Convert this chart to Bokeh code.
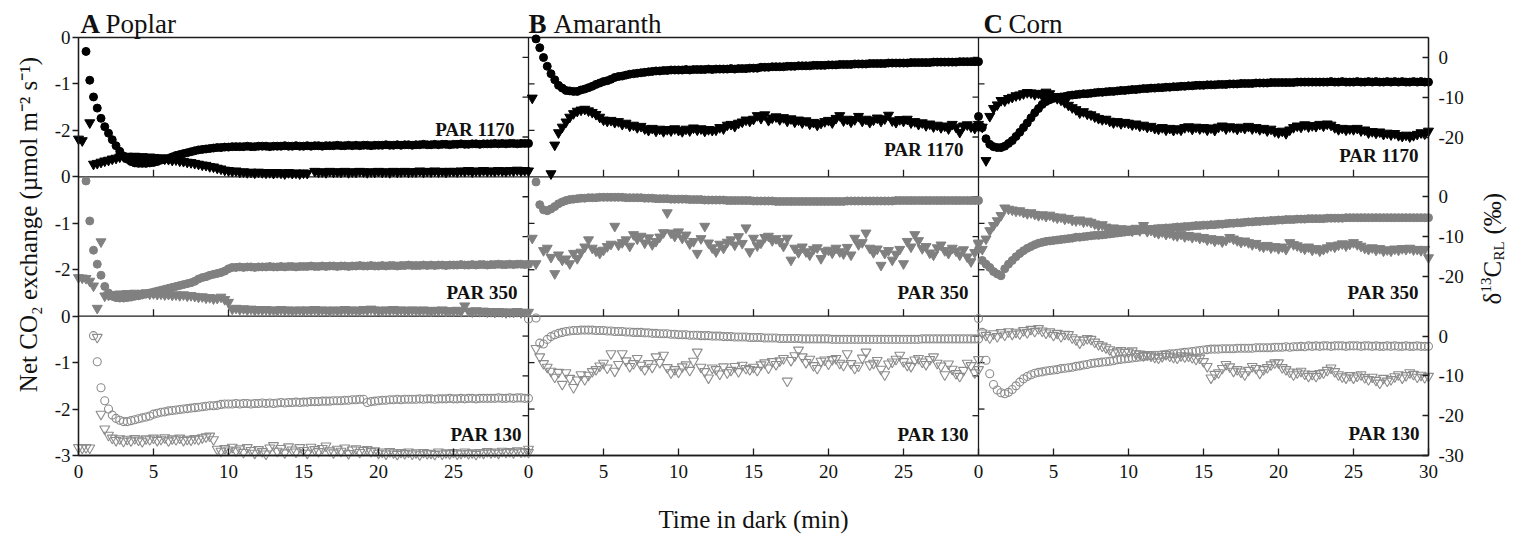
import math
import numpy as np
from bokeh.plotting import figure
from bokeh.models import Range1d, LinearAxis, FixedTicker, Label, ColumnDataSource
from bokeh.embed import file_html
from bokeh.resources import INLINE

N = None

# ---------------- data ----------------
TIME = [0.0, 0.25, 0.5, 0.75, 1.0, 1.25, 1.5, 1.75, 2.0, 2.25,
        2.5, 2.75, 3.0, 3.25, 3.5, 3.75, 4.0, 4.25, 4.5, 4.75,
        5.0, 5.25, 5.5, 5.75, 6.0, 6.25, 6.5, 6.75, 7.0, 7.25,
        7.5, 7.75, 8.0, 8.25, 8.5, 8.75, 9.0, 9.25, 9.5, 9.75,
        10.0, 10.25, 10.5, 10.75, 11.0, 11.25, 11.5, 11.75, 12.0, 12.25,
        12.5, 12.75, 13.0, 13.25, 13.5, 13.75, 14.0, 14.25, 14.5, 14.75,
        15.0, 15.25, 15.5, 15.75, 16.0, 16.25, 16.5, 16.75, 17.0, 17.25,
        17.5, 17.75, 18.0, 18.25, 18.5, 18.75, 19.0, 19.25, 19.5, 19.75,
        20.0, 20.25, 20.5, 20.75, 21.0, 21.25, 21.5, 21.75, 22.0, 22.25,
        22.5, 22.75, 23.0, 23.25, 23.5, 23.75, 24.0, 24.25, 24.5, 24.75,
        25.0, 25.25, 25.5, 25.75, 26.0, 26.25, 26.5, 26.75, 27.0, 27.25,
        27.5, 27.75, 28.0, 28.25, 28.5, 28.75, 29.0, 29.25, 29.5, 29.75,
        30.0]

SPECIES = ["Poplar", "Amaranth", "Corn"]
PANEL_LETTERS = ["A", "B", "C"]
PAR_LABELS = ["PAR 1170", "PAR 350", "PAR 130"]
X_TICKS = [0, 5, 10, 15, 20, 25, 30]
CO2_TICKS = [0, -1, -2]
CO2_BOTTOM_TICK = -3
D13C_TICKS = [0, -10, -20]
D13C_BOTTOM_TICK = -30

# ---- Poplar ----
POPLAR_1170_CO2 = [
    N, N, -0.30, -0.92, -1.28, -1.52, -1.74, -1.92, -2.06, -2.20,
    -2.33, -2.45, -2.55, -2.62, -2.67, -2.70, -2.71, -2.71, -2.71, -2.70,
    -2.69, -2.67, -2.64, -2.62, -2.60, -2.57, -2.54, -2.52, -2.50, -2.48,
    -2.46, -2.44, -2.42, -2.41, -2.40, -2.39, -2.38, -2.37, -2.37, -2.36,
    -2.36, -2.35, -2.35, -2.35, -2.35, -2.34, -2.35, -2.35, -2.34, -2.34,
    -2.34, -2.35, -2.34, -2.34, -2.34, -2.33, -2.34, -2.34, -2.33, -2.34,
    -2.34, -2.33, -2.34, -2.33, -2.33, -2.34, -2.33, -2.33, -2.33, -2.32,
    -2.33, -2.33, -2.32, -2.33, -2.32, -2.33, -2.32, -2.32, -2.33, -2.32,
    -2.32, -2.32, -2.31, -2.32, -2.32, -2.31, -2.32, -2.31, -2.31, -2.32,
    -2.31, -2.31, -2.30, -2.31, -2.31, -2.30, -2.31, -2.30, -2.30, -2.31,
    -2.30, -2.30, -2.29, -2.30, -2.30, -2.29, -2.29, -2.30, -2.29, -2.29,
    -2.29, -2.28, -2.29, -2.28, -2.29, -2.28, -2.28, -2.29, -2.28, -2.28,
    -2.28]
POPLAR_1170_D13C = [
    -20.5, -20.9, N, -16.4, -26.8, -26.6, -26.3, -26.0, -25.8, -25.5,
    -25.3, -25.0, -24.9, -24.8, -24.9, -24.8, -25.0, -24.9, -25.1, -25.0,
    -25.1, -25.3, -25.2, -25.5, -25.6, -25.8, -25.7, -26.0, -26.1, -26.3,
    -26.4, -26.6, -26.8, -27.0, -27.1, -27.4, -27.5, -27.8, -28.0, -28.3,
    -28.4, -28.6, -28.5, -28.8, -28.7, -28.9, -28.8, -29.0, -28.8, -28.9,
    -29.0, -28.9, -29.1, -28.9, -29.0, -29.2, -28.9, -29.1, -29.0, -29.2,
    -29.0, -29.1, N, -28.6, -28.8, -28.7, -28.9, -28.6, -28.8, -28.7,
    -28.8, -28.6, -28.9, -28.7, -28.8, -28.6, -28.7, -28.9, -28.7, -28.8,
    -28.6, -28.8, -28.7, -28.9, -28.6, -28.8, -28.7, -28.6, -28.8, -28.7,
    -28.7, -28.5, -28.8, -28.6, -28.7, -28.5, -28.7, -28.6, -28.8, -28.6,
    -28.6, -28.7, -28.5, -28.6, -28.4, -28.7, -28.5, -28.6, -28.4, -28.6,
    -28.5, -28.6, -28.4, -28.5, -28.6, -28.4, -28.5, -28.3, -28.5, -28.4,
    -28.5]
POPLAR_350_CO2 = [
    N, N, -0.09, -0.95, -1.58, -1.88, -2.12, -2.36, -2.50, -2.57,
    -2.60, -2.61, -2.61, -2.60, -2.59, -2.57, -2.56, -2.54, -2.52, -2.50,
    -2.48, -2.46, -2.44, -2.42, -2.40, -2.38, -2.36, -2.34, -2.32, -2.30,
    -2.28, -2.25, -2.20, -2.17, -2.15, -2.12, -2.10, -2.08, -2.06, -2.03,
    -1.98, -1.95, -1.95, -1.94, -1.95, -1.94, -1.94, -1.95, -1.94, -1.94,
    -1.94, -1.93, -1.94, -1.94, -1.93, -1.94, -1.93, -1.93, -1.94, -1.93,
    -1.93, -1.93, -1.92, -1.93, -1.93, -1.92, -1.93, -1.92, -1.92, -1.93,
    -1.92, -1.92, -1.93, -1.92, -1.92, -1.91, -1.92, -1.92, -1.91, -1.92,
    -1.92, -1.91, -1.92, -1.91, -1.91, -1.92, -1.91, -1.91, -1.90, -1.91,
    -1.91, -1.91, -1.90, -1.91, -1.90, -1.91, -1.90, -1.90, -1.91, -1.90,
    -1.90, -1.90, -1.89, -1.90, -1.90, -1.89, -1.90, -1.89, -1.89, -1.90,
    -1.89, -1.89, -1.88, -1.89, -1.89, -1.88, -1.89, -1.88, -1.88, -1.89,
    -1.88]
POPLAR_350_D13C = [
    -20.3, -20.4, -20.5, -21.2, -22.4, -28.0, -11.3, -24.9, -24.7, -24.6,
    -24.6, -24.4, -24.5, -24.3, -24.5, -24.2, -24.4, -24.3, -24.1, -24.4,
    -24.3, -24.5, -24.4, -24.6, -24.5, -24.7, -24.6, -24.8, -24.6, -24.9,
    -24.8, -25.0, -25.2, -25.1, -25.4, -25.3, -25.6, -25.5, -25.2, -25.8,
    -26.5, -28.2, -28.0, -28.3, -28.1, -28.4, -28.2, -28.5, -28.3, -28.4,
    -28.3, -28.5, -28.4, -28.6, -28.3, -28.5, -28.4, -28.6, -28.5, -28.4,
    -28.6, -28.4, -28.5, -28.3, -28.6, -28.4, -28.5, -28.7, -28.4, -28.6,
    -28.5, -28.3, -28.6, -28.4, -28.5, -28.6, -28.3, -28.5, -28.2, -28.4,
    -28.5, -28.6, -28.4, -28.5, -28.3, -28.6, -28.4, -28.5, -28.6, -28.4,
    -28.5, -28.6, -28.4, -28.6, -28.7, -28.5, -28.6, -28.4, -28.7, -28.6,
    -28.7, -28.5, -28.8, -27.4, -28.7, -28.9, -28.6, -28.8, -28.7, -28.9,
    -28.8, -29.0, -28.8, -28.9, -29.1, -28.9, -29.0, -28.8, -29.1, -29.0,
    -29.0]
POPLAR_130_CO2 = [
    N, N, N, N, -0.42, -0.98, -1.54, -1.82, -2.00, -2.13,
    -2.20, -2.24, -2.27, -2.27, -2.25, -2.23, -2.21, -2.19, -2.17, -2.15,
    -2.11, -2.09, -2.07, -2.06, -2.04, -2.03, -2.02, -2.01, -2.00, -1.99,
    -1.98, -1.97, -1.96, -1.95, -1.94, -1.93, -1.93, -1.92, -1.90, -1.89,
    -1.89, -1.89, -1.88, -1.89, -1.88, -1.88, -1.89, -1.88, -1.88, -1.87,
    -1.88, -1.87, -1.88, -1.87, -1.86, -1.87, -1.86, -1.86, -1.85, -1.86,
    -1.85, -1.85, -1.84, -1.84, -1.84, -1.83, -1.83, -1.83, -1.82, -1.82,
    -1.82, -1.81, -1.81, -1.80, -1.80, -1.79, -1.79, -1.86, -1.84, -1.83,
    -1.82, -1.81, -1.81, -1.80, -1.80, -1.79, -1.80, -1.79, -1.79, -1.79,
    -1.79, -1.78, -1.79, -1.78, -1.78, -1.79, -1.78, -1.78, -1.78, -1.77,
    -1.78, -1.78, -1.77, -1.78, -1.77, -1.77, -1.78, -1.77, -1.77, -1.77,
    -1.77, -1.77, -1.76, -1.77, -1.77, -1.76, -1.77, -1.76, -1.76, -1.77,
    -1.77]
POPLAR_130_D13C = [
    -28.0, -28.1, -28.0, -28.1, N, -0.3, -19.6, -23.3, -24.9, -25.6,
    -26.2, -25.8, -26.4, -25.9, -26.3, -25.7, -26.1, -26.5, -25.8, -26.0,
    -25.6, -26.2, -25.9, -25.5, -26.3, -25.8, -26.0, -25.6, -26.2, -25.9,
    -26.1, -25.7, -25.9, -25.5, -25.3, -25.1, -26.0, -28.4, -28.9, -28.2,
    -28.6, -27.9, -28.8, -28.3, -29.2, -28.0, -28.7, -29.4, -28.5, -29.0,
    -29.6, -28.1, -27.5, -28.9, -28.2, -29.3, -27.8, -28.6, -29.1, -28.0,
    -28.7, -29.4, -27.9, -28.5, -29.0, -28.2, -27.6, -28.8, -29.3, -28.4,
    -28.9, -28.1, -29.5, -28.6, -28.3, -29.2, -28.7, -28.5, -29.0, -28.8,
    -29.4, -29.1, -29.6, -29.0, -29.3, -29.7, -29.2, -29.5, -29.1, -29.6,
    -29.3, -29.8, -29.2, -29.5, -29.4, -29.7, -29.1, -29.6, -29.3, -29.5,
    -29.2, -29.6, -29.4, -29.1, -29.5, -29.3, -29.7, -29.2, -29.4, -29.0,
    -29.3, -29.1, -29.4, -28.9, -29.2, -29.0, -29.3, -28.8, -29.1, -29.0,
    -29.2]

# ---- Amaranth ----
AMARANTH_1170_CO2 = [
    N, N, -0.03, -0.22, -0.43, -0.62, -0.78, -0.91, -1.03, -1.09,
    -1.14, -1.15, -1.16, -1.16, -1.13, -1.11, -1.08, -1.05, -1.01, -0.98,
    -0.95, -0.93, -0.90, -0.86, -0.84, -0.83, -0.81, -0.79, -0.78, -0.77,
    -0.76, -0.75, -0.74, -0.73, -0.72, -0.72, -0.71, -0.71, -0.70, -0.70,
    -0.70, -0.70, -0.69, -0.70, -0.69, -0.69, -0.69, -0.69, -0.68, -0.69,
    -0.68, -0.68, -0.68, -0.68, -0.67, -0.68, -0.67, -0.67, -0.67, -0.66,
    -0.66, -0.66, -0.64, -0.64, -0.64, -0.63, -0.63, -0.63, -0.63, -0.62,
    -0.62, -0.62, -0.61, -0.61, -0.61, -0.61, -0.60, -0.60, -0.60, -0.60,
    -0.59, -0.59, -0.59, -0.58, -0.58, -0.58, -0.58, -0.57, -0.57, -0.57,
    -0.57, -0.56, -0.56, -0.56, -0.56, -0.56, -0.55, -0.55, -0.55, -0.55,
    -0.55, -0.55, -0.54, -0.54, -0.54, -0.54, -0.54, -0.54, -0.53, -0.53,
    -0.53, -0.53, -0.53, -0.53, -0.53, -0.52, -0.52, -0.52, -0.52, -0.52,
    -0.52]
AMARANTH_1170_D13C = [
    N, -10.2, N, N, N, N, -29.2, -22.0, -18.9, -17.5,
    -16.2, -15.0, -14.1, -13.5, -13.2, -13.0, -13.4, -13.8, -14.3, -15.0,
    -15.7, -16.0, -15.8, -16.3, -16.1, -16.8, -16.5, -17.2, -17.0, -17.6,
    -17.3, -17.9, -18.3, -17.8, -18.5, -18.0, -18.6, -18.1, -18.4, -17.9,
    -18.3, -18.6, -18.0, -18.4, -17.7, -18.2, -17.9, -18.5, -18.1, -18.3,
    -18.2, -17.6, -17.9, -17.0, -16.8, -17.3, -16.5, -16.2, -15.7, -16.0,
    -15.5, -14.6, -15.3, -14.4, -15.8, -15.2, -14.9, -15.6, -15.1, -16.0,
    -15.4, -16.2, -15.7, -16.4, -15.9, -16.7, -16.3, -17.0, -16.5, -16.1,
    -15.8, -16.4, -15.3, -14.6, -15.9, -15.5, -16.2, -15.6, -14.8, -16.0,
    -15.5, -16.3, -15.7, -15.2, -16.0, -15.4, -14.5, -15.9, -16.3, -15.6,
    -16.0, -15.5, -16.4, -16.1, -16.8, -16.4, -17.1, -16.7, -17.4, -17.0,
    -17.6, -17.2, -17.9, -16.8, -17.5, -18.8, -17.2, -16.9, -17.4, -17.8,
    -17.3]
AMARANTH_350_CO2 = [
    N, N, -0.11, -0.60, -0.71, -0.73, -0.69, -0.64, -0.58, -0.54,
    -0.51, -0.49, -0.48, -0.47, -0.46, -0.46, -0.45, -0.45, -0.45, -0.44,
    -0.44, -0.44, -0.44, -0.44, -0.44, -0.44, -0.45, -0.45, -0.45, -0.45,
    -0.45, -0.46, -0.46, -0.46, -0.47, -0.47, -0.47, -0.47, -0.48, -0.48,
    -0.48, -0.48, -0.48, -0.49, -0.49, -0.49, -0.49, -0.50, -0.50, -0.50,
    -0.50, -0.50, -0.50, -0.51, -0.51, -0.51, -0.51, -0.51, -0.51, -0.51,
    -0.52, -0.52, -0.52, -0.52, -0.52, -0.52, -0.53, -0.53, -0.53, -0.53,
    -0.53, -0.53, -0.53, -0.53, -0.53, -0.53, -0.53, -0.53, -0.53, -0.53,
    -0.53, -0.53, -0.53, -0.53, -0.53, -0.52, -0.52, -0.52, -0.52, -0.52,
    -0.52, -0.52, -0.52, -0.52, -0.52, -0.52, -0.52, -0.52, -0.51, -0.51,
    -0.51, -0.51, -0.51, -0.51, -0.51, -0.51, -0.51, -0.51, -0.51, -0.51,
    -0.51, -0.51, -0.51, -0.51, -0.51, -0.51, -0.51, -0.51, -0.51, -0.51,
    -0.51]
AMARANTH_350_D13C = [
    N, -10.4, -16.8, N, -13.5, -12.9, -15.2, -19.3, -14.6, -15.9,
    -15.6, -16.8, -14.2, -15.5, -13.9, -12.6, -10.8, -12.9, -13.6, -14.2,
    -13.4, -12.5, -11.9, -7.4, -12.1, -11.5, -10.8, -12.4, -9.5, -10.6,
    -9.9, -11.6, -10.3, -12.0, -11.2, -10.1, -9.0, -4.0, -9.1, -9.9,
    -8.8, -10.4, -9.6, -11.8, -11.2, -14.2, -10.5, -7.4, -11.6, -12.8,
    -13.8, -11.9, -12.9, -11.4, -10.8, -12.1, -10.0, -11.7, -7.8, -13.8,
    -10.4, -12.3, -11.6, -10.2, -9.9, -11.0, -10.5, -11.2, -12.4, -10.4,
    -15.9, -12.9, -14.0, -12.6, -13.8, -14.6, -13.2, -12.8, -15.5, -13.7,
    -13.4, -14.1, -12.9, -13.8, -14.3, -12.7, -14.6, -10.4, -12.0, -11.5,
    -9.1, -12.9, -14.0, -13.1, -17.2, -14.2, -13.5, -15.9, -14.4, -13.2,
    -16.8, -11.2, -12.6, -9.5, -11.0, -13.0, -12.5, -14.1, -14.6, -12.8,
    -12.1, -13.5, -14.2, -12.9, -13.6, -14.6, -13.3, -15.1, -16.3, -14.0,
    -11.6]
AMARANTH_130_CO2 = [
    -0.06, N, -0.04, -0.58, -0.60, -0.50, -0.44, -0.40, -0.37, -0.35,
    -0.33, -0.32, -0.31, -0.31, -0.30, -0.30, -0.30, -0.30, -0.31, -0.31,
    -0.31, -0.32, -0.32, -0.33, -0.33, -0.33, -0.34, -0.34, -0.35, -0.35,
    -0.35, -0.36, -0.36, -0.37, -0.37, -0.38, -0.38, -0.38, -0.39, -0.39,
    -0.40, -0.40, -0.40, -0.41, -0.41, -0.41, -0.42, -0.42, -0.42, -0.43,
    -0.43, -0.43, -0.44, -0.44, -0.44, -0.45, -0.45, -0.45, -0.45, -0.46,
    -0.46, -0.46, -0.46, -0.47, -0.47, -0.47, -0.47, -0.48, -0.48, -0.48,
    -0.48, -0.48, -0.48, -0.49, -0.49, -0.49, -0.49, -0.49, -0.49, -0.49,
    -0.49, -0.50, -0.50, -0.50, -0.50, -0.50, -0.50, -0.50, -0.50, -0.50,
    -0.50, -0.50, -0.50, -0.50, -0.50, -0.50, -0.50, -0.50, -0.50, -0.50,
    -0.50, -0.50, -0.50, -0.50, -0.50, -0.49, -0.49, -0.49, -0.49, -0.49,
    -0.49, -0.49, -0.49, -0.49, -0.49, -0.49, -0.49, -0.49, -0.49, -0.49,
    -0.49]
AMARANTH_130_D13C = [
    -28.4, N, -3.1, -5.2, -6.9, -7.8, -8.8, -10.3, -9.1, -12.1,
    -9.2, -10.6, -12.9, -11.0, -9.7, -10.9, -9.8, -8.9, -8.4, -7.5,
    -6.8, -8.0, -4.4, -8.8, -7.1, -4.4, -6.2, -7.6, -6.9, -5.6,
    -7.3, -8.4, -6.9, -7.8, -5.2, -6.6, -4.8, -7.9, -9.2, -8.4,
    -9.0, -7.7, -7.2, -8.6, -6.3, -4.0, -7.8, -8.9, -10.5, -8.0,
    -8.4, -9.5, -7.7, -9.2, -8.6, -7.6, -8.9, -7.3, -8.1, -8.4,
    -7.8, -8.6, -7.2, -6.7, -8.0, -6.4, -7.1, -6.2, -5.6, -11.3,
    -6.1, -4.9, -3.5, -5.2, -6.6, -5.8, -7.4, -8.1, -6.3, -6.0,
    -7.0, -5.9, -5.6, -6.8, -7.3, -4.4, -6.9, -8.1, -7.5, -5.5,
    -4.0, -7.2, -6.8, -6.1, -8.3, -9.7, -7.0, -6.5, -5.8, -4.8,
    -6.4, -7.3, -7.6, -6.0, -5.6, -6.5, -7.1, -5.9, -5.2, -6.8,
    -7.5, -9.7, -7.0, -8.3, -9.4, -10.1, -8.6, -6.8, -7.4, -9.2,
    -8.4]

# ---- Corn ----
CORN_1170_CO2 = [
    -1.70, -1.94, -2.18, -2.30, -2.35, -2.37, -2.37, -2.34, -2.28, -2.22,
    -2.13, -2.04, -1.94, -1.84, -1.73, -1.62, -1.53, -1.44, -1.38, -1.34,
    -1.31, -1.29, -1.28, -1.27, -1.25, -1.24, -1.23, -1.22, -1.21, -1.21,
    -1.20, -1.19, -1.18, -1.18, -1.17, -1.16, -1.16, -1.15, -1.14, -1.14,
    -1.13, -1.12, -1.12, -1.11, -1.10, -1.10, -1.09, -1.09, -1.08, -1.08,
    -1.07, -1.07, -1.06, -1.06, -1.05, -1.05, -1.04, -1.04, -1.03, -1.03,
    -1.03, -1.02, -1.02, -1.02, -1.01, -1.01, -1.01, -1.00, -1.00, -1.00,
    -0.99, -0.99, -0.99, -0.99, -0.98, -0.98, -0.98, -0.98, -0.97, -0.97,
    -0.97, -0.97, -0.97, -0.97, -0.97, -0.96, -0.96, -0.96, -0.96, -0.96,
    -0.96, -0.96, -0.96, -0.96, -0.95, -0.96, -0.96, -0.95, -0.96, -0.96,
    -0.96, -0.95, -0.96, -0.96, -0.95, -0.96, -0.95, -0.96, -0.96, -0.95,
    -0.96, -0.95, -0.96, -0.95, -0.96, -0.96, -0.95, -0.96, -0.95, -0.96,
    -0.96]
CORN_1170_D13C = [
    -16.8, -17.5, -25.9, -14.8, -12.8, -11.9, -10.8, -10.9, -10.3, -10.0,
    -9.6, -9.4, -9.1, -8.8, -8.9, -9.3, -9.0, -9.6, -8.7, -9.1,
    -9.8, -10.3, -10.7, -11.3, -12.0, -12.6, -13.1, -13.9, -13.6, -14.2,
    -14.4, -14.9, -15.3, -15.6, -15.5, -16.0, -16.4, -16.1, -16.6, -16.3,
    -16.5, -16.9, -16.7, -17.2, -17.0, -17.5, -17.3, -17.8, -18.0, -17.6,
    -18.2, -17.8, -18.3, -17.9, -18.2, -17.6, -17.4, -18.0, -17.5, -17.9,
    -17.6, -18.2, -17.7, -18.3, -17.5, -17.2, -17.9, -17.4, -17.6, -18.0,
    -17.5, -17.8, -17.3, -17.9, -17.6, -18.1, -17.8, -18.4, -18.0, -18.6,
    -18.9, -18.5, -19.1, -18.2, -17.6, -17.2, -17.5, -16.9, -17.4, -17.1,
    -17.3, -16.8, -17.2, -16.7, -17.0, -17.6, -18.1, -17.8, -18.2, -17.9,
    -18.1, -17.8, -18.4, -18.2, -18.9, -18.6, -19.0, -18.7, -19.3, -19.0,
    -19.4, -19.1, -19.6, -19.8, -19.5, -19.9, -19.6, -19.3, -18.9, -19.2,
    -18.5]
CORN_350_CO2 = [
    -1.56, -1.80, -1.88, -1.95, -2.04, -2.09, -2.13, -1.98, -1.88, -1.80,
    -1.72, -1.65, -1.59, -1.54, -1.50, -1.46, -1.43, -1.41, -1.39, -1.38,
    -1.37, -1.36, -1.35, -1.34, -1.33, -1.32, -1.30, -1.30, -1.29, -1.28,
    -1.27, -1.26, -1.26, -1.25, -1.24, -1.23, -1.22, -1.21, -1.20, -1.19,
    -1.18, -1.17, -1.16, -1.15, -1.14, -1.13, -1.13, -1.12, -1.11, -1.11,
    -1.10, -1.10, -1.09, -1.08, -1.08, -1.07, -1.07, -1.06, -1.05, -1.05,
    -1.04, -1.04, -1.03, -1.03, -1.02, -1.02, -1.01, -1.00, -1.00, -0.99,
    -0.99, -0.98, -0.97, -0.97, -0.96, -0.96, -0.95, -0.95, -0.94, -0.94,
    -0.93, -0.93, -0.92, -0.92, -0.92, -0.91, -0.91, -0.91, -0.90, -0.90,
    -0.90, -0.90, -0.90, -0.89, -0.89, -0.89, -0.89, -0.89, -0.88, -0.88,
    -0.88, -0.88, -0.88, -0.88, -0.88, -0.88, -0.88, -0.88, -0.88, -0.88,
    -0.88, -0.88, -0.88, -0.88, -0.88, -0.88, -0.88, -0.88, -0.88, -0.88,
    -0.88]
CORN_350_D13C = [
    -11.9, -13.2, -10.6, -8.5, -7.2, -6.0, -4.7, -2.8, -3.1, -3.3,
    -3.6, -3.5, -3.9, -4.2, -4.0, -4.4, -4.7, -4.5, -4.9, -4.6,
    -5.0, -5.3, -5.1, -5.6, -5.4, -5.9, -6.0, -5.8, -6.3, -6.1,
    -6.4, -6.8, -7.2, -7.0, -7.6, -8.1, -7.8, -8.3, -8.0, -8.4,
    -8.1, -8.6, -7.9, -8.5, -7.2, -8.7, -8.4, -8.9, -9.2, -8.8,
    -9.4, -9.1, -9.6, -9.8, -9.4, -10.0, -9.7, -10.2, -9.9, -10.4,
    -10.2, -10.8, -10.5, -11.1, -10.7, -11.3, -10.9, -10.2, -10.6, -11.0,
    -11.4, -11.1, -11.5, -12.0, -11.7, -12.3, -12.6, -12.2, -12.8, -12.5,
    -13.0, -12.6, -13.2, -11.5, -12.0, -12.3, -12.7, -13.1, -12.6, -13.4,
    -13.0, -13.6, -13.2, -12.8, -12.3, -12.6, -12.1, -11.8, -12.3, -11.9,
    -11.5, -12.0, -12.4, -12.9, -13.2, -12.8, -13.4, -13.0, -13.6, -13.3,
    -13.6, -13.1, -13.4, -13.0, -13.2, -12.9, -13.3, -13.2, -13.5, -13.2,
    -15.3]
CORN_130_CO2 = [
    -0.05, -0.35, -0.95, -1.24, -1.47, -1.59, -1.65, -1.67, -1.64, -1.58,
    -1.50, -1.42, -1.35, -1.30, -1.26, -1.23, -1.21, -1.20, -1.18, -1.17,
    -1.16, -1.15, -1.13, -1.12, -1.11, -1.10, -1.08, -1.07, -1.05, -1.04,
    -1.02, -1.01, -1.00, -0.99, -0.98, -0.97, -0.96, -0.94, -0.93, -0.92,
    -0.91, -0.90, -0.89, -0.88, -0.87, -0.86, -0.85, -0.84, -0.84, -0.83,
    -0.82, -0.81, -0.81, -0.80, -0.79, -0.78, -0.77, -0.76, -0.75, -0.74,
    -0.73, -0.72, -0.71, -0.71, -0.71, -0.70, -0.70, -0.70, -0.70, -0.69,
    -0.69, -0.69, -0.69, -0.69, -0.68, -0.68, -0.68, -0.68, -0.68, -0.67,
    -0.67, -0.67, -0.66, -0.67, -0.66, -0.66, -0.65, -0.66, -0.64, -0.65,
    -0.64, -0.65, -0.64, -0.64, -0.65, -0.64, -0.64, -0.64, -0.65, -0.64,
    -0.64, -0.64, -0.65, -0.64, -0.64, -0.65, -0.64, -0.65, -0.65, -0.64,
    -0.65, -0.64, -0.65, -0.65, -0.64, -0.65, -0.65, -0.64, -0.65, -0.65,
    -0.65]
CORN_130_D13C = [
    -5.9, 0.8, 0.2, -0.4, 0.6, -0.1, 0.9, 0.3, 1.1, 0.5,
    1.0, 0.6, 1.4, 0.9, 1.7, 1.2, 1.9, 1.3, 0.8, 1.1,
    0.2, 0.7, -0.1, 0.5, 0.4, -0.4, -0.9, -1.7, -1.0, -0.6,
    -0.8, -1.5, -2.1, -2.5, -2.9, -3.4, -4.2, -3.8, -3.6, -4.1,
    -4.0, -3.7, -4.4, -4.5, -4.9, -4.6, -5.0, -5.3, -5.5, -5.1,
    -4.6, -5.0, -5.3, -5.5, -4.9, -5.2, -5.0, -5.4, -5.8, -5.5,
    -6.4, -7.6, -10.5, -9.6, -9.2, -8.1, -7.1, -7.7, -8.8, -8.4,
    -9.0, -9.7, -8.6, -7.6, -8.1, -9.3, -8.4, -7.9, -7.2, -6.7,
    -6.7, -7.9, -8.4, -9.0, -9.7, -9.2, -8.8, -9.5, -10.1, -9.6,
    -10.1, -9.4, -9.2, -8.6, -8.0, -8.9, -9.7, -10.2, -10.5, -9.9,
    -10.5, -10.0, -9.7, -10.4, -10.9, -10.3, -11.1, -11.8, -10.6, -11.3,
    -10.9, -10.2, -9.7, -10.5, -9.9, -9.2, -9.6, -10.3, -9.8, -10.4,
    -10.1]

# series[row][col] -> (CO2, d13C)
SERIES = [
    [(POPLAR_1170_CO2, POPLAR_1170_D13C), (AMARANTH_1170_CO2, AMARANTH_1170_D13C), (CORN_1170_CO2, CORN_1170_D13C)],
    [(POPLAR_350_CO2, POPLAR_350_D13C), (AMARANTH_350_CO2, AMARANTH_350_D13C), (CORN_350_CO2, CORN_350_D13C)],
    [(POPLAR_130_CO2, POPLAR_130_D13C), (AMARANTH_130_CO2, AMARANTH_130_D13C), (CORN_130_CO2, CORN_130_D13C)],
]

# ---------------- layout ----------------
W, H = 1517, 537
BL, BR, BT, BB = 78, 89, 37, 82          # where the panel block sits inside the canvas
FW, FH = W - BL - BR, H - BT - BB
PANEL_T = 30.0
CO2_SPAN = 3.0
D_TOP, D_BOT = 5.0, -30.0
D_SPAN = D_TOP - D_BOT
NC, NR = 3, 3
PX_X = FW / (NC * PANEL_T)
PX_Y = FH / (NR * CO2_SPAN)
GX0, GX1 = -BL / PX_X, NC * PANEL_T + BR / PX_X
GY0, GY1 = -NR * CO2_SPAN - BB / PX_Y, BT / PX_Y
INK = "#1c1c1c"
TXT = "#111111"
FONT = "Liberation Serif"


def v_to_d(v):
    return D_TOP + v * D_SPAN / CO2_SPAN


p = figure(width=W, height=H, output_backend="svg", toolbar_location=None,
           x_range=Range1d(GX0, GX1), y_range=Range1d(GY0, GY1),
           min_border_left=0, min_border_right=0, min_border_top=0, min_border_bottom=0)
p.outline_line_color = None
p.grid.visible = False
p.background_fill_color = "white"
p.border_fill_color = "white"

xr, yl, yd = {}, {}, {}
for c in range(NC):
    xr[c] = f"x{c}"
    p.extra_x_ranges[xr[c]] = Range1d(GX0 - c * PANEL_T, GX1 - c * PANEL_T)
for r in range(NR):
    yl[r] = f"l{r}"
    p.extra_y_ranges[yl[r]] = Range1d(GY0 + r * CO2_SPAN, GY1 + r * CO2_SPAN)
    yd[r] = f"d{r}"
    p.extra_y_ranges[yd[r]] = Range1d(v_to_d(GY0 + r * CO2_SPAN), v_to_d(GY1 + r * CO2_SPAN))
p.extra_y_ranges["dall"] = Range1d(v_to_d(GY0), v_to_d(GY1))


def style_axis(ax):
    ax.axis_line_color = INK
    ax.axis_line_width = 1.3
    ax.major_tick_line_color = INK
    ax.major_tick_line_width = 1.3
    ax.minor_tick_line_color = None
    ax.major_label_text_font = FONT
    ax.major_label_text_font_size = "19px"
    ax.major_label_text_color = TXT
    ax.axis_label_text_font = FONT
    ax.axis_label_text_font_size = "25px"
    ax.axis_label_text_font_style = "normal"
    ax.axis_label_text_color = TXT


# bottom axis (shared across the three columns)
xt, xo = [], {}
for c in range(NC):
    for t in X_TICKS:
        pos = c * PANEL_T + t
        if pos not in xt:
            xt.append(pos)
        xo[pos] = str(t)
xax = p.xaxis[0]
style_axis(xax)
xax.fixed_location = -NR * CO2_SPAN
xax.bounds = (0, NC * PANEL_T)
xax.ticker = FixedTicker(ticks=xt)
xax.major_label_overrides = xo
xax.major_tick_in = 7
xax.major_tick_out = 0
xax.major_label_standoff = 9
xax.axis_label = "Time in dark (min)"
xax.axis_label_standoff = 25

# left axis (CO2, stacked rows)
lt, lo = [], {}
for r in range(NR):
    ticks = CO2_TICKS + ([CO2_BOTTOM_TICK] if r == NR - 1 else [])
    for v in ticks:
        pos = v - r * CO2_SPAN
        if pos not in lt:
            lt.append(pos)
        lo[pos] = str(v)
yax = p.yaxis[0]
style_axis(yax)
yax.fixed_location = 0
yax.bounds = (-NR * CO2_SPAN, 0)
yax.ticker = FixedTicker(ticks=lt)
yax.major_label_overrides = lo
yax.major_tick_in = 0
yax.major_tick_out = 6
yax.major_label_standoff = 2

# right axis (d13C, stacked rows)
rt, ro = [], {}
for r in range(NR):
    ticks = D13C_TICKS + ([D13C_BOTTOM_TICK] if r == NR - 1 else [])
    for d in ticks:
        pos = d - r * D_SPAN
        rt.append(pos)
        ro[pos] = str(d)
rax = LinearAxis(y_range_name="dall")
style_axis(rax)
rax.fixed_location = NC * PANEL_T
rax.bounds = (D_BOT - (NR - 1) * D_SPAN, D_TOP)
rax.ticker = FixedTicker(ticks=rt)
rax.major_label_overrides = ro
rax.major_tick_in = 6
rax.major_tick_out = 0
rax.major_label_standoff = 10
p.add_layout(rax, "right")

# panel frames: outer box + separators
bx0, by0, bx1, by1 = [], [], [], []
for c in range(NC + 1):
    bx0.append(c * PANEL_T); bx1.append(c * PANEL_T); by0.append(-NR * CO2_SPAN); by1.append(0)
for r in range(NR + 1):
    bx0.append(0); bx1.append(NC * PANEL_T); by0.append(-r * CO2_SPAN); by1.append(-r * CO2_SPAN)
p.segment(x0=bx0, y0=by0, x1=bx1, y1=by1, line_color=INK, line_width=1.3)

# inner tick marks on shared edges
sx0, sy0, sx1, sy1 = [], [], [], []
for r in range(NR - 1):
    yb = -(r + 1) * CO2_SPAN
    for c in range(NC):
        for t in X_TICKS[1:-1]:
            sx0.append(c * PANEL_T + t); sx1.append(c * PANEL_T + t)
            sy0.append(yb); sy1.append(yb + 7 / PX_Y)
for c in range(1, NC):
    for r in range(NR):
        for v in CO2_TICKS[1:]:
            y = v - r * CO2_SPAN
            sx0.append(c * PANEL_T); sx1.append(c * PANEL_T + 6 / PX_X)
            sy0.append(y); sy1.append(y)
p.segment(x0=sx0, y0=sy0, x1=sx1, y1=sy1, line_color=INK, line_width=1.3)
dx0, dy0, dx1, dy1 = [], [], [], []
for c in range(1, NC):
    for r in range(NR):
        for d in D13C_TICKS:
            y = d - r * D_SPAN
            dx0.append(c * PANEL_T - 6 / PX_X); dx1.append(c * PANEL_T)
            dy0.append(y); dy1.append(y)
p.segment(x0=dx0, y0=dy0, x1=dx1, y1=dy1, line_color=INK, line_width=1.3, y_range_name="dall")

# data
STYLES = [
    dict(fill_color="black", line_color="black", line_width=1.0),
    dict(fill_color="#808080", line_color="#808080", line_width=1.0),
    dict(fill_color=None, line_color="#8c8c8c", line_width=1.1),
]
t_arr = np.array(TIME, dtype=float)
for r in range(NR):
    for c in range(NC):
        co2, d13 = SERIES[r][c]
        src = ColumnDataSource(dict(t=t_arr,
                                    co2=np.array(co2, dtype=float),
                                    d13=np.array(d13, dtype=float)))
        st = STYLES[r]
        p.scatter("t", "d13", source=src, marker="inverted_triangle", size=10,
                  x_range_name=xr[c], y_range_name=yd[r], **st)
        p.scatter("t", "co2", source=src, marker="circle", size=8,
                  x_range_name=xr[c], y_range_name=yl[r], **st)

# PAR labels (row-relative CO2 position of the text middle, and right inset in px)
PAR_Y = [[-1.98, -2.41, -2.54], [-2.50, -2.50, -2.50], [-2.54, -2.54, -2.52]]
PAR_INSET = [[14, 15, 10], [11, 10, 10], [7, 10, 9]]
for r in range(NR):
    for c in range(NC):
        p.add_layout(Label(x=(c + 1) * PANEL_T, y=PAR_Y[r][c] - r * CO2_SPAN,
                           x_offset=-PAR_INSET[r][c], text=PAR_LABELS[r],
                           text_align="right", text_baseline="middle",
                           text_font=FONT, text_font_style="bold",
                           text_font_size="19px", text_color=TXT))

# panel titles (text middle 13.5 px above the panel top)
TITLE_DX = [2, 0, 5]
TITLE_GAP = [25, 25, 25]
for c in range(NC):
    p.add_layout(Label(x=c * PANEL_T, y=0, x_offset=TITLE_DX[c], y_offset=13.5,
                       text=PANEL_LETTERS[c], text_baseline="middle",
                       text_font=FONT, text_font_style="bold", text_font_size="27px",
                       text_color=TXT))
    p.add_layout(Label(x=c * PANEL_T, y=0, x_offset=TITLE_DX[c] + TITLE_GAP[c], y_offset=13.5,
                       text=SPECIES[c], text_baseline="middle",
                       text_font=FONT, text_font_size="27px", text_color=TXT))

# left axis title
p.add_layout(Label(x=0, y=-(224 - BT) / PX_Y, x_offset=-50,
                   text="Net CO\u2082 exchange (\u00b5mol m\u207b\u00b2 s\u207b\u00b9)",
                   angle=math.pi / 2, text_align="center", text_baseline="middle",
                   text_font=FONT, text_font_size="25px", text_color=TXT))

# right axis title: delta 13 C RL (permil), rotated
y_anchor = -(304 - BT) / PX_Y
pieces = [("\u03b4", "25px", 64, 0), ("13", "15px", 57, 12), ("C", "25px", 64, 27),
          ("RL", "15px", 70, 44), ("(\u2030)", "25px", 64, 70)]
for txt, fs, xo_, yo_ in pieces:
    p.add_layout(Label(x=NC * PANEL_T, y=y_anchor, x_offset=xo_, y_offset=yo_, text=txt,
                       angle=math.pi / 2, text_align="left", text_baseline="middle",
                       text_font=FONT, text_font_size=fs, text_color=TXT))

open("out.html", "w").write(file_html(p, INLINE))
